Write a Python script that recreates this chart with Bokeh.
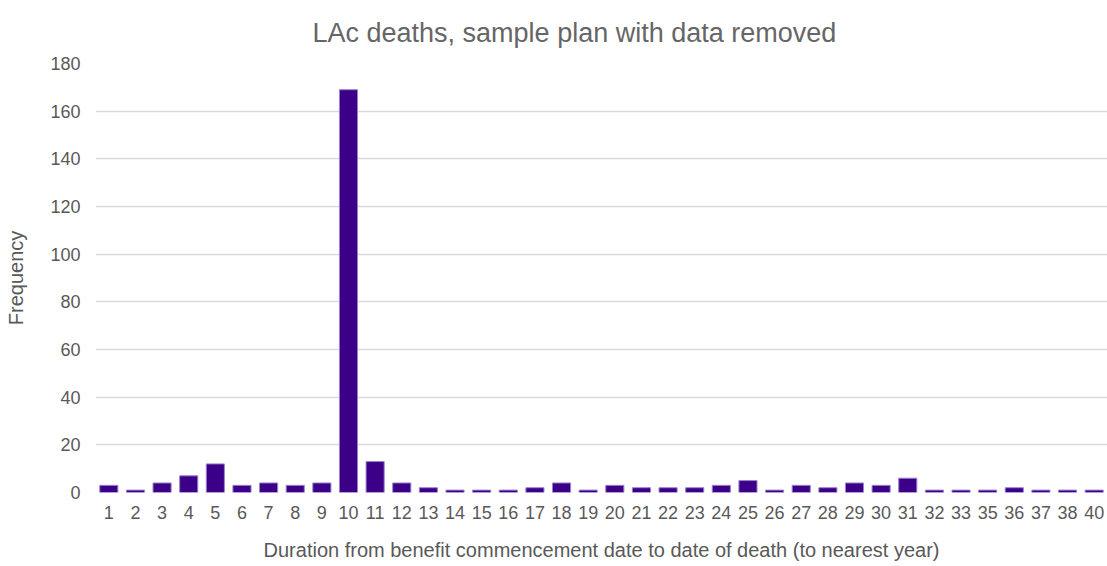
from bokeh.plotting import figure
from bokeh.models import ColumnDataSource, FactorRange, Range1d, SingleIntervalTicker
from bokeh.embed import file_html
from bokeh.resources import INLINE

durations = ["1", "2", "3", "4", "5", "6", "7", "8", "9", "10", "11", "12", "13", "14",
             "15", "16", "17", "18", "19", "20", "21", "22", "23", "24", "25", "26", "27",
             "28", "29", "30", "31", "32", "33", "35", "36", "37", "38", "40"]
frequency = [3, 1, 4, 7, 12, 3, 4, 3, 4, 169, 13, 4, 2, 1, 1, 1, 2, 4, 1, 3, 2, 2, 2, 3, 5,
             1, 3, 2, 4, 3, 6, 1, 1, 1, 2, 1, 1, 1]
title_text = "LAc deaths, sample plan with data removed"

TXT = "#595959"
FONT = "Liberation Sans"

src = ColumnDataSource(dict(x=durations, y=frequency))

p = figure(x_range=FactorRange(*durations), y_range=Range1d(0, 180),
           frame_width=1012, frame_height=429,
           output_backend="svg", toolbar_location=None,
           min_border_left=95, min_border_right=0, min_border_top=63, min_border_bottom=74,
           title=title_text)
p.x_range.range_padding = 0

p.vbar(x="x", top="y", width=0.68, source=src,
       fill_color="#3B0087", line_color="#9A82CE", line_width=1)

p.title.align = "left"
p.title.text_font = FONT
p.title.text_font_size = "27px"
p.title.text_font_style = "normal"
p.title.text_color = "#666666"
p.title.standoff = 31
p.title.offset = 217

p.outline_line_color = None
p.background_fill_color = "white"
p.border_fill_color = "white"

p.xgrid.grid_line_color = None
p.ygrid.grid_line_color = "#D9D9D9"
p.ygrid.grid_line_width = 1.5
p.yaxis.ticker = SingleIntervalTicker(interval=20)

for ax in (p.xaxis[0], p.yaxis[0]):
    ax.axis_line_color = None
    ax.major_tick_line_color = None
    ax.minor_tick_line_color = None
    ax.major_label_text_font = FONT
    ax.major_label_text_font_size = "18px"
    ax.major_label_text_color = TXT
    ax.axis_label_text_font = FONT
    ax.axis_label_text_font_size = "20px"
    ax.axis_label_text_font_style = "normal"
    ax.axis_label_text_color = TXT

p.yaxis.major_label_standoff = 9
p.xaxis.major_label_standoff = 7
p.xaxis.axis_label = "Duration from benefit commencement date to date of death (to nearest year)"
p.yaxis.axis_label = "Frequency"
p.xaxis.axis_label_standoff = 17
p.yaxis.axis_label_standoff = 20

open("out.html", "w").write(file_html(p, INLINE))
